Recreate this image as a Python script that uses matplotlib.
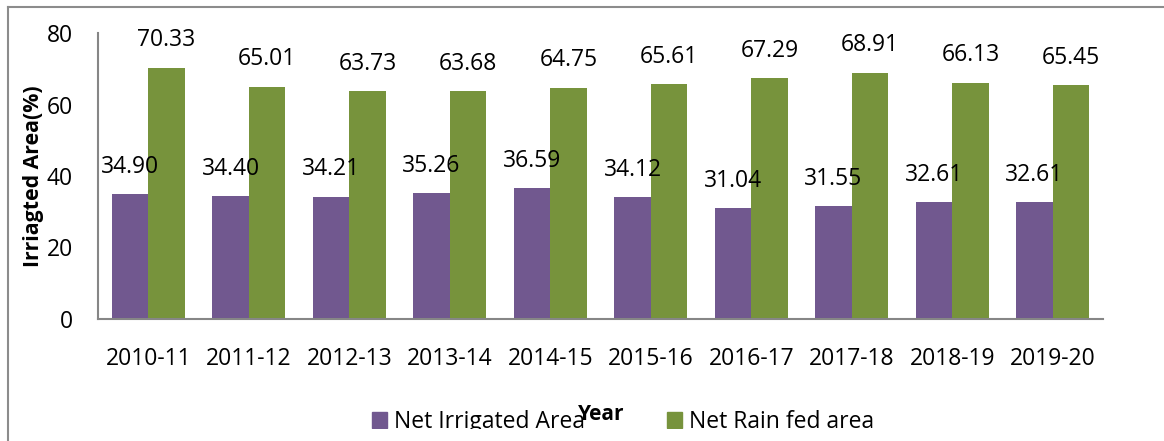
import numpy as np
import matplotlib.pyplot as plt
from matplotlib.patches import Patch, Rectangle
from matplotlib.lines import Line2D

plt.rcParams['font.family'] = ['Open Sans', 'DejaVu Sans']

years = ['2010-11', '2011-12', '2012-13', '2013-14', '2014-15',
         '2015-16', '2016-17', '2017-18', '2018-19', '2019-20']
irrigated = [34.90, 34.40, 34.21, 35.26, 36.59, 34.12, 31.04, 31.55, 32.61, 32.61]
rainfed = [70.33, 65.01, 63.73, 63.68, 64.75, 65.61, 67.29, 68.91, 66.13, 65.45]

purple = '#71588F'
green = '#77933C'
grey = '#868686'
fs = 16.5

fig = plt.figure(figsize=(11.64, 4.41), dpi=100)
ax = fig.add_axes([98/1164, 1-319/441, (1103-98)/1164, (319-33)/441])

x = np.arange(len(years))
w = 0.363
b1 = ax.bar(x - w/2, irrigated, w, color=purple)
b2 = ax.bar(x + w/2, rainfed, w, color=green)

for bars, vals in ((b1, irrigated), (b2, rainfed)):
    for bar, v in zip(bars, vals):
        ax.annotate("{0:.2f}".format(v), (bar.get_x() + bar.get_width()/2, v),
                    xytext=(0, 11), textcoords='offset points',
                    ha='center', va='bottom', fontsize=fs)

ax.set_xlim(-0.5, len(years) - 0.5)
ax.set_ylim(0, 80)
ax.set_yticks([0, 20, 40, 60, 80])
ax.set_xticks(x)
ax.set_xticklabels(years)
ax.tick_params(axis='both', length=0, labelsize=fs)
ax.tick_params(axis='y', pad=18)
ax.tick_params(axis='x', pad=20)
for s in ('top', 'right'):
    ax.spines[s].set_visible(False)
for s in ('left', 'bottom'):
    ax.spines[s].set_color(grey)
    ax.spines[s].set_linewidth(1.5)

ax.set_ylabel('Irriagted Area(%)', fontsize=15.3, fontweight='bold')
ax.yaxis.set_label_coords(-0.054, 0.5)

handles = [Patch(color=purple, label='Net Irrigated Area'),
           Patch(color=green, label='Net Rain fed area')]
fig.legend(handles=handles, loc='center', bbox_to_anchor=(623/1164, 1-422/441),
           ncol=2, frameon=False, fontsize=fs, handlelength=0.65, handleheight=0.65,
           handletextpad=0.3, columnspacing=3.6)

fig.text(601/1164, 1-414/441, 'Year', fontsize=15, fontweight='bold',
         ha='center', va='center', zorder=5)

# bottom strip of the chart box hides the lower part of the legend
fig.add_artist(Rectangle((10/1164, 0), 1, 12/441, transform=fig.transFigure,
                         facecolor='white', edgecolor='none', zorder=10))

# outer chart frame (only left and top edges visible)
fig.add_artist(Line2D([8/1164, 8/1164], [0, 1-7/441], transform=fig.transFigure,
                      color='#8c8c8c', lw=1.5, zorder=11))
fig.add_artist(Line2D([8/1164, 1], [1-7/441, 1-7/441], transform=fig.transFigure,
                      color='#8c8c8c', lw=1.5, zorder=11))

fig.savefig('out.png', dpi=100)
